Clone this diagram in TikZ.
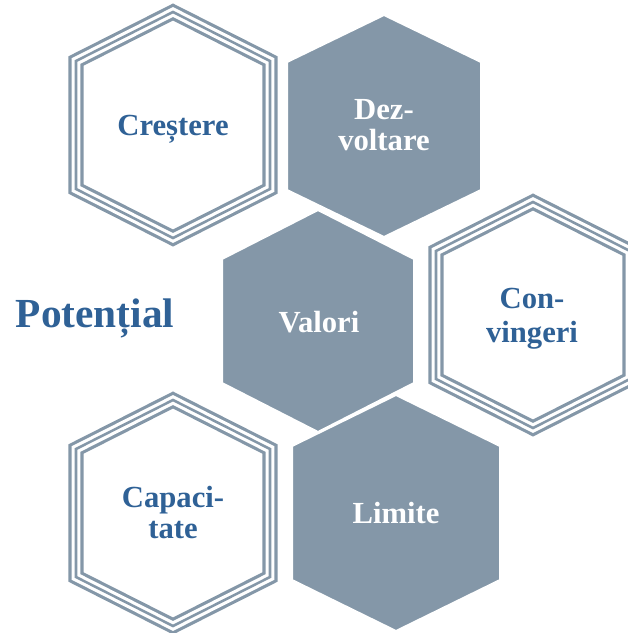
\documentclass[tikz,border=0pt]{standalone}
\usepackage{fontspec}
\setmainfont{Liberation Serif}
\definecolor{hexgray}{HTML}{8497A8}
\definecolor{txtblue}{HTML}{2F6196}
% hexagon path: centre x, centre y, half width, half height, half side
\newcommand{\hexa}[5]{(#1,#2-#4) -- (#1+#3,#2-#5) -- (#1+#3,#2+#5) -- (#1,#2+#4) -- (#1-#3,#2+#5) -- (#1-#3,#2-#5) -- cycle}
\tikzset{
	ring/.style={draw=hexgray, line width=2.4pt, double=white, double distance=6.6pt},
	ringmid/.style={draw=hexgray, line width=1.9pt},
	full/.style={fill=hexgray, draw=white, line width=1.5pt},
	word/.style={font=\fontsize{23}{23}\selectfont\bfseries, align=center, anchor=base}
}
\begin{document}
\begin{tikzpicture}[x=0.75pt,y=-0.75pt]
	\useasboundingbox (0,0) rectangle (628,633);
	\draw[ring] \hexa{173}{125}{97}{113}{64};
	\draw[ringmid] \hexa{173}{125}{97}{113}{64};
	\draw[ring] \hexa{533}{315}{97}{113}{64};
	\draw[ringmid] \hexa{533}{315}{97}{113}{64};
	\draw[ring] \hexa{173}{513}{97}{113}{64};
	\draw[ringmid] \hexa{173}{513}{97}{113}{64};
	\filldraw[full] \hexa{384}{126}{97}{111}{64};
	\filldraw[full] \hexa{318}{321}{96}{111}{62};
	\filldraw[full] \hexa{396}{513}{104}{118}{67};
	\node[word, text=txtblue] (crestere) at (173,135) {Creștere};
	\node[word, text=white] (dezvoltare) at (384,150) {Dez-\\voltare};
	\node[word, text=white] (valori) at (319,332) {Valori};
	\node[word, text=txtblue, font=\fontsize{23}{25.5}\selectfont\bfseries] (convingeri) at (532,342) {Con-\\vingeri};
	\node[word, text=txtblue] (capacitate) at (173,538) {Capaci-\\tate};
	\node[word, text=white] (limite) at (396,523) {Limite};
	\node[font=\fontsize{31}{31}\selectfont\bfseries, text=txtblue, anchor=base] (potential) at (95,327) {Potențial};
\end{tikzpicture}
\end{document}
